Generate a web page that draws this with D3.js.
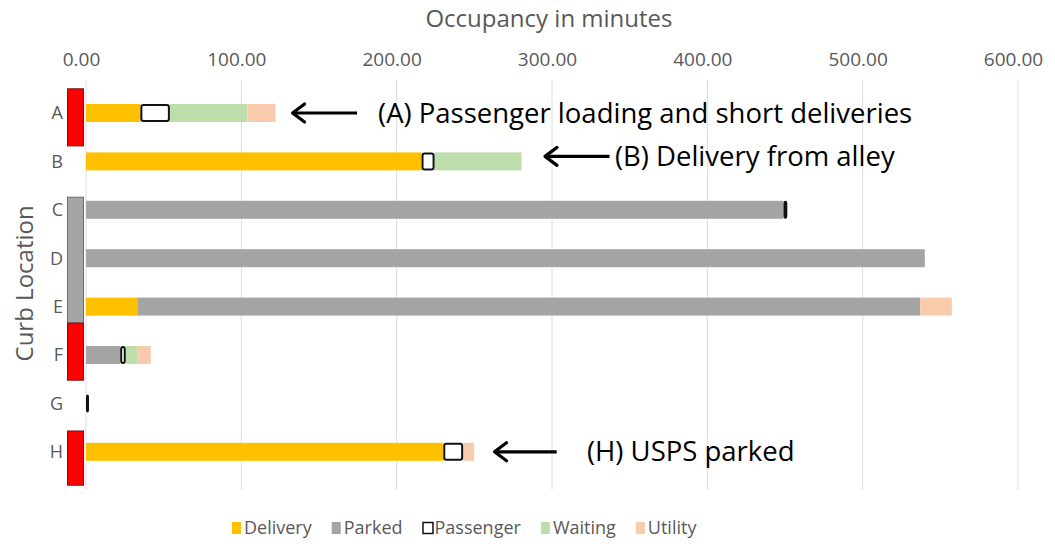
<!DOCTYPE html>
<html>
<head>
<meta charset="utf-8">
<script src="https://cdn.jsdelivr.net/npm/d3@7"></script>
<style>
  body { margin: 0; background: #fff; }
  svg { font-family: "Open Sans", "Noto Sans", sans-serif; }
</style>
</head>
<body>
<div id="graphicContainer"></div>
<script>
// curb locations and minutes of occupancy per use
var categories = ["A", "B", "C", "D", "E", "F", "G", "H"]
var delivery  = [35, 216, 0, 0, 33, 0, 0, 230]
var parked    = [0, 0, 449, 540, 504, 22, 0, 0]
var passenger = [19, 8.4, 2.5, 0, 0, 3.6, 1.5, 12.8]
var waiting   = [50, 56, 0, 0, 0, 7.7, 0, 0]
var utility   = [18, 0, 0, 0, 20.4, 8.4, 0, 7.1]
var seriesNames = ["Delivery", "Parked", "Passenger", "Waiting", "Utility"]
var seriesColours = ["#ffc000", "#a5a5a5", "#ffffff", "#bddeab", "#f8cbad"]
var xTicks = [0, 100, 200, 300, 400, 500, 600]

// curb zone markers, in row units (A = 0)
var zoneFrom = [-0.5, 1.74, 4.34, 6.57]
var zoneTo   = [0.68, 4.34, 5.52, 7.69]
var zoneType = ["red", "grey", "red", "red"]

// callouts: row, arrow tip / tail and text start in minutes
var noteRow  = ["A", "B", "H"]
var noteTip  = [133, 295.5, 263]
var noteTail = [174.5, 337, 303]
var noteText = [188, 340.5, 322.5]
var noteShift = [0, -5, 0]
var noteLabel = ["(A) Passenger loading and short deliveries", "(B) Delivery from alley", "(H) USPS parked"]

var width = 1055, height = 544
var grey = "#595959"

var svg = d3.select("#graphicContainer").append("svg")
  .attr("width", width)
  .attr("height", height)

var x = d3.scaleLinear().domain([0, 600]).range([86, 1018])
var y = d3.scalePoint().domain(categories).range([88.8, 476]).padding(0.5)
var rowY = d3.scaleLinear().domain([0, categories.length - 1]).range([y("A"), y("H")])
var barH = 18

// grid
svg.append("g")
  .selectAll("line")
  .data(xTicks)
  .enter()
  .append("line")
  .attr("x1", d => x(d)).attr("x2", d => x(d))
  .attr("y1", 80).attr("y2", 490)
  .style("stroke", "#dedede")
  .style("stroke-width", 1)

// top axis
var xAxis = svg.append("g")
  .attr("transform", "translate(0,70)")
  .call(d3.axisTop(x).tickValues(xTicks).tickSize(0).tickPadding(4).tickFormat(d3.format(".2f")))
xAxis.select(".domain").remove()
xAxis.selectAll("text")
  .attr("dx", -5)
  .style("font-family", "'Open Sans', sans-serif")
  .style("font-size", "19px")
  .attr("fill", grey)

svg.append("text")
  .attr("x", 549).attr("y", 27)
  .attr("text-anchor", "middle")
  .attr("fill", grey)
  .style("font-size", "24px")
  .text("Occupancy in minutes")

svg.append("text")
  .attr("transform", `translate(33,${(y("A") + y("H")) / 2 + 1}) rotate(-90)`)
  .attr("text-anchor", "middle")
  .attr("fill", grey)
  .style("font-size", "24px")
  .text("Curb Location")

// row labels
svg.append("g")
  .selectAll("text")
  .data(categories)
  .enter()
  .append("text")
  .attr("x", 63)
  .attr("y", d => y(d))
  .attr("dy", "0.35em")
  .attr("text-anchor", "end")
  .attr("fill", grey)
  .style("font-size", "18px")
  .text(d => d)

// stacked bars
var table = categories.map((c, i) => ({
  cat: c,
  Delivery: delivery[i], Parked: parked[i], Passenger: passenger[i],
  Waiting: waiting[i], Utility: utility[i]
}))
var stacked = d3.stack().keys(seriesNames)(table)
var color = d3.scaleOrdinal().domain(seriesNames).range(seriesColours)

var layers = svg.append("g")
  .selectAll("g")
  .data(stacked)
  .enter()
  .append("g")
  .attr("fill", d => color(d.key))

layers.filter(d => d.key != "Passenger")
  .selectAll("rect")
  .data(d => d.filter(p => p[1] > p[0]))
  .enter()
  .append("rect")
  .attr("x", d => x(d[0]))
  .attr("y", d => y(d.data.cat) - barH / 2)
  .attr("width", d => x(d[1]) - x(d[0]))
  .attr("height", barH)

// passenger boxes on top
svg.append("g")
  .selectAll("rect")
  .data(stacked.find(s => s.key == "Passenger").filter(p => p[1] > p[0]))
  .enter()
  .append("rect")
  .attr("x", d => x(d[0]) + 1)
  .attr("y", d => y(d.data.cat) - barH / 2 + 1)
  .attr("width", d => Math.max(x(d[1]) - x(d[0]) - 2, 1))
  .attr("height", barH - 2)
  .attr("rx", 2)
  .attr("fill", "#fff")
  .attr("stroke", "#111")
  .attr("stroke-width", 2)

// curb zones
svg.append("g")
  .selectAll("rect")
  .data(zoneFrom.map((f, i) => ({from: f, to: zoneTo[i], type: zoneType[i]})))
  .enter()
  .append("rect")
  .attr("x", 67.5)
  .attr("width", 16)
  .attr("y", d => rowY(d.from))
  .attr("height", d => rowY(d.to) - rowY(d.from))
  .attr("fill", d => d.type == "red" ? "#ff0000" : "#a5a5a5")
  .attr("stroke", d => d.type == "red" ? "#7a1010" : "#6b6b6b")
  .attr("stroke-width", 1)

// callouts
noteRow.forEach(function (r, i) {
  var cy = y(r) + noteShift[i]
  var tip = x(noteTip[i])
  svg.append("line")
    .attr("x1", tip + 2).attr("x2", x(noteTail[i]))
    .attr("y1", cy).attr("y2", cy)
    .attr("stroke", "#000")
    .attr("stroke-width", 3.2)
  svg.append("path")
    .attr("d", `M${tip + 12},${cy - 9} L${tip},${cy} L${tip + 12},${cy + 9}`)
    .attr("fill", "none")
    .attr("stroke", "#000")
    .attr("stroke-width", 3.2)
    .attr("stroke-linecap", "round")
    .attr("stroke-linejoin", "round")
  svg.append("text")
    .attr("x", x(noteText[i]))
    .attr("y", cy)
    .attr("dy", "0.35em")
    .attr("fill", "#000")
    .style("font-size", "27.5px")
    .text(noteLabel[i])
})

// legend
var legend = svg.append("g").attr("transform", "translate(232,528)")
var lx = 0
seriesNames.forEach(function (name, i) {
  var g = legend.append("g").attr("transform", `translate(${lx},0)`)
  if (name == "Passenger") {
    g.append("rect").attr("x", 0.5).attr("y", -5.5).attr("width", 10).attr("height", 11)
      .attr("fill", "#fff").attr("stroke", "#111").attr("stroke-width", 1.5)
  } else {
    g.append("rect").attr("x", 0).attr("y", -6).attr("width", 9).attr("height", 12)
      .attr("fill", seriesColours[i])
  }
  var t = g.append("text")
    .attr("x", 12)
    .attr("dy", "0.35em")
    .attr("fill", grey)
    .style("font-size", "18px")
    .text(name)
  lx += 12 + t.node().getComputedTextLength() + 20
})
</script>
</body>
</html>
